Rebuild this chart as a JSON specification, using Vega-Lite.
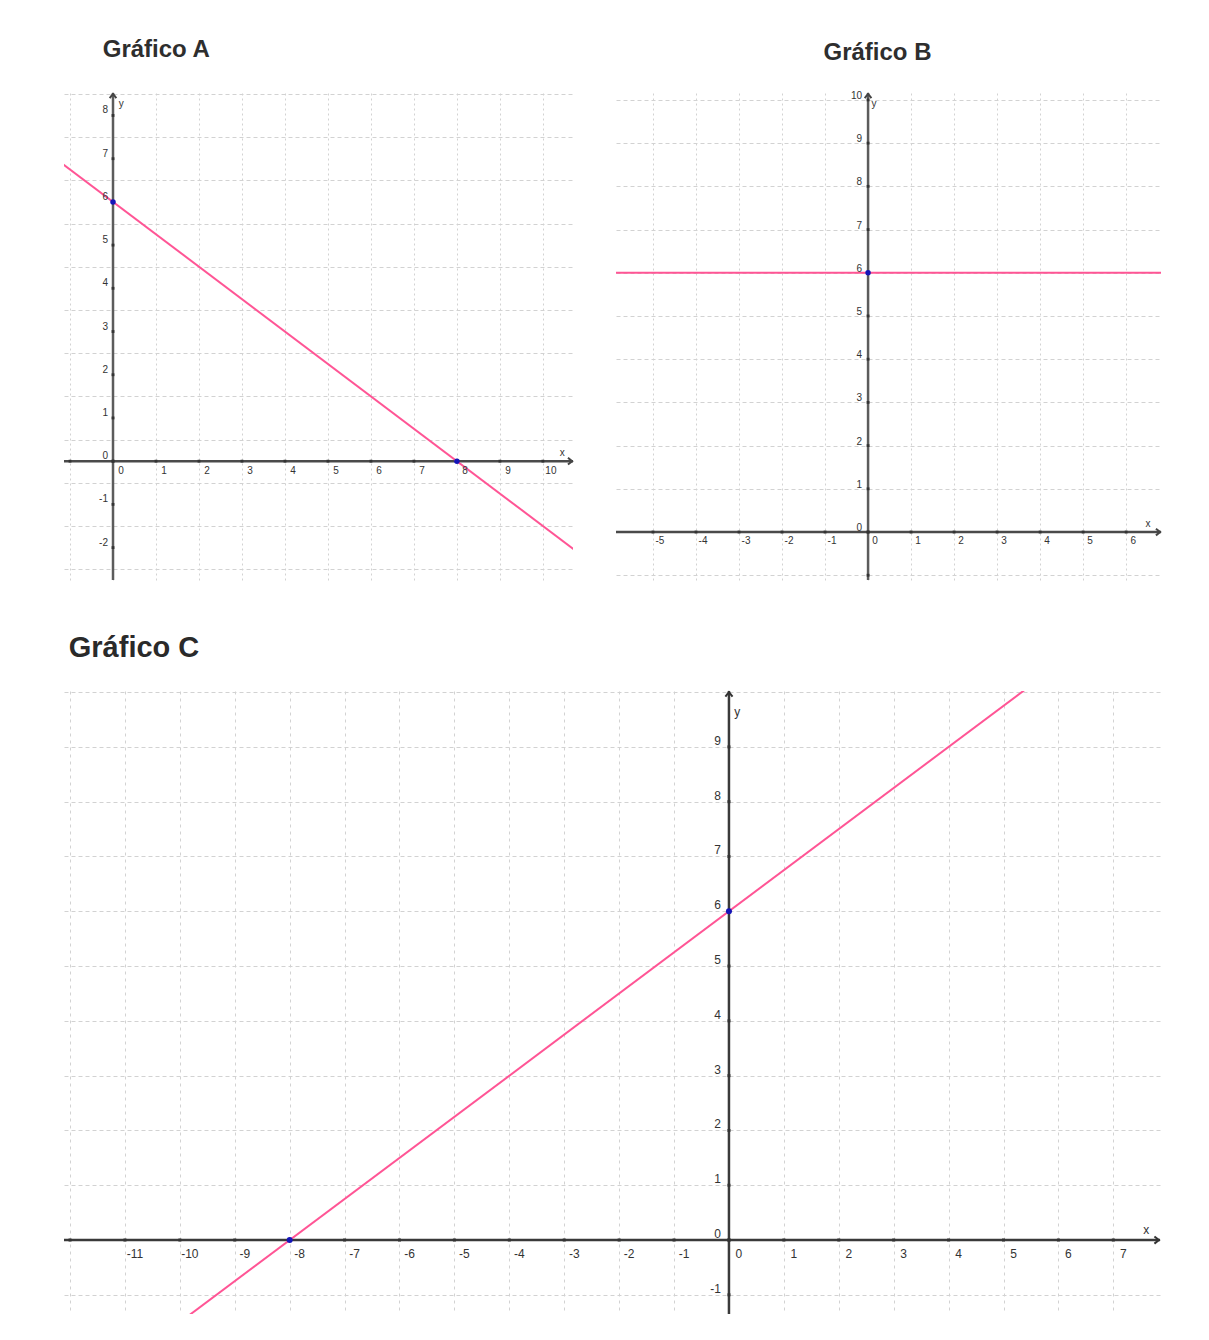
{
  "$schema": "https://vega.github.io/schema/vega-lite/v6.json",
  "background": "white",
  "padding": {"left": 62, "top": 37, "right": 0, "bottom": 0},
  "spacing": 52,
  "config": {"view": {"stroke": null}, "text": {"font": "Liberation Sans", "color": "#333"}},
  "datasets": {
    "one": [{}],
    "A_line": [{"x": -2, "y": 7.5}, {"x": 12, "y": -3}],
    "A_pts": [{"x": 0, "y": 6}, {"x": 8, "y": 0}],
    "A_xt": [{"v": -1, "t": ""}, {"v": 0, "t": "0"}, {"v": 1, "t": "1"}, {"v": 2, "t": "2"}, {"v": 3, "t": "3"}, {"v": 4, "t": "4"}, {"v": 5, "t": "5"}, {"v": 6, "t": "6"}, {"v": 7, "t": "7"}, {"v": 8, "t": "8"}, {"v": 9, "t": "9"}, {"v": 10, "t": "10"}],
    "A_yt": [{"v": -2, "t": "-2"}, {"v": -1, "t": "-1"}, {"v": 0, "t": "0"}, {"v": 1, "t": "1"}, {"v": 2, "t": "2"}, {"v": 3, "t": "3"}, {"v": 4, "t": "4"}, {"v": 5, "t": "5"}, {"v": 6, "t": "6"}, {"v": 7, "t": "7"}, {"v": 8, "t": "8"}],
    "B_line": [{"x": -7, "y": 6}, {"x": 8, "y": 6}],
    "B_pts": [{"x": 0, "y": 6}],
    "B_xt": [{"v": -5, "t": "-5"}, {"v": -4, "t": "-4"}, {"v": -3, "t": "-3"}, {"v": -2, "t": "-2"}, {"v": -1, "t": "-1"}, {"v": 0, "t": "0"}, {"v": 1, "t": "1"}, {"v": 2, "t": "2"}, {"v": 3, "t": "3"}, {"v": 4, "t": "4"}, {"v": 5, "t": "5"}, {"v": 6, "t": "6"}],
    "B_yt": [{"v": -1, "t": ""}, {"v": 0, "t": "0"}, {"v": 1, "t": "1"}, {"v": 2, "t": "2"}, {"v": 3, "t": "3"}, {"v": 4, "t": "4"}, {"v": 5, "t": "5"}, {"v": 6, "t": "6"}, {"v": 7, "t": "7"}, {"v": 8, "t": "8"}, {"v": 9, "t": "9"}, {"v": 10, "t": "10"}],
    "C_line": [{"x": -13, "y": -3.75}, {"x": 8, "y": 12}],
    "C_pts": [{"x": 0, "y": 6}, {"x": -8, "y": 0}],
    "C_xt": [{"v": -12, "t": ""}, {"v": -11, "t": "-11"}, {"v": -10, "t": "-10"}, {"v": -9, "t": "-9"}, {"v": -8, "t": "-8"}, {"v": -7, "t": "-7"}, {"v": -6, "t": "-6"}, {"v": -5, "t": "-5"}, {"v": -4, "t": "-4"}, {"v": -3, "t": "-3"}, {"v": -2, "t": "-2"}, {"v": -1, "t": "-1"}, {"v": 0, "t": "0"}, {"v": 1, "t": "1"}, {"v": 2, "t": "2"}, {"v": 3, "t": "3"}, {"v": 4, "t": "4"}, {"v": 5, "t": "5"}, {"v": 6, "t": "6"}, {"v": 7, "t": "7"}],
    "C_yt": [{"v": -1, "t": "-1"}, {"v": 0, "t": "0"}, {"v": 1, "t": "1"}, {"v": 2, "t": "2"}, {"v": 3, "t": "3"}, {"v": 4, "t": "4"}, {"v": 5, "t": "5"}, {"v": 6, "t": "6"}, {"v": 7, "t": "7"}, {"v": 8, "t": "8"}, {"v": 9, "t": "9"}]
  },
  "vconcat": [
    {
      "spacing": 37,
      "hconcat": [
        {
          "width": 509,
          "height": 487,
          "data": {"name": "one"},
          "title": {"text": "Gráfico A", "anchor": "start", "dx": 40, "offset": 9, "baseline": "alphabetic", "font": "Liberation Sans", "fontSize": 24, "fontWeight": "bold", "color": "#2e2e2e"},
          "layer": [
            {
              "mark": {"type": "rule", "color": "#5c5c5c", "strokeWidth": 2.5},
              "encoding": {"x": {"datum": 0, "type": "quantitative", "scale": {"domain": [-1.14, 10.7], "nice": false, "zero": false},
                "axis": {"values": [-1, 0, 1, 2, 3, 4, 5, 6, 7, 8, 9, 10], "grid": true, "gridDash": [2, 3], "gridColor": "#d2d2d2", "labels": false, "ticks": false, "domain": false, "title": null}}}
            },
            {
              "mark": {"type": "rule", "color": "#4a4a4a", "strokeWidth": 2.5},
              "encoding": {"y": {"datum": 0, "type": "quantitative", "scale": {"domain": [-2.75, 8.52], "nice": false, "zero": false},
                "axis": {"values": [-2.5, -2, -1.5, -1, -0.5, 0, 0.5, 1, 1.5, 2, 2.5, 3, 3.5, 4, 4.5, 5, 5.5, 6, 6.5, 7, 7.5, 8, 8.5], "grid": true, "gridDash": [4, 3], "gridColor": "#d2d2d2", "labels": false, "ticks": false, "domain": false, "title": null}}}
            },
            {
              "data": {"name": "A_line"},
              "mark": {"type": "line", "color": "#ff5595", "strokeWidth": 2, "clip": true},
              "encoding": {"x": {"field": "x", "type": "quantitative"}, "y": {"field": "y", "type": "quantitative"}}
            },
            {
              "data": {"name": "A_xt"},
              "mark": {"type": "point", "shape": "square", "size": 8, "filled": true, "color": "#333", "opacity": 1},
              "encoding": {"x": {"field": "v", "type": "quantitative"}, "y": {"datum": 0}}
            },
            {
              "data": {"name": "A_yt"},
              "mark": {"type": "point", "shape": "square", "size": 8, "filled": true, "color": "#333", "opacity": 1},
              "encoding": {"y": {"field": "v", "type": "quantitative"}, "x": {"datum": 0}}
            },
            {
              "data": {"name": "A_xt"},
              "mark": {"type": "text", "fontSize": 10, "dx": 8, "dy": 10, "align": "center", "baseline": "middle"},
              "encoding": {"x": {"field": "v", "type": "quantitative"}, "y": {"datum": 0}, "text": {"field": "t"}}
            },
            {
              "data": {"name": "A_yt"},
              "mark": {"type": "text", "fontSize": 10, "dx": -5, "dy": -5, "align": "right", "baseline": "middle"},
              "encoding": {"y": {"field": "v", "type": "quantitative"}, "x": {"datum": 0}, "text": {"field": "t"}}
            },
            {
              "mark": {"type": "point", "shape": "M-1,-0.8L0,0L-1,0.8", "size": 70, "filled": false, "color": "#444", "strokeWidth": 2, "opacity": 1},
              "encoding": {"x": {"datum": 10.68}, "y": {"datum": 0}}
            },
            {
              "mark": {"type": "point", "shape": "M-0.8,1L0,0L0.8,1", "size": 70, "filled": false, "color": "#444", "strokeWidth": 2, "opacity": 1},
              "encoding": {"x": {"datum": 0}, "y": {"datum": 8.5}}
            },
            {
              "mark": {"type": "text", "text": "x", "fontSize": 10},
              "encoding": {"x": {"datum": 10.45}, "y": {"datum": 0.2}}
            },
            {
              "mark": {"type": "text", "text": "y", "fontSize": 10},
              "encoding": {"x": {"datum": 0.19}, "y": {"datum": 8.26}}
            },
            {
              "data": {"name": "A_pts"},
              "mark": {"type": "circle", "size": 30, "color": "#1414b8", "opacity": 1},
              "encoding": {"x": {"field": "x", "type": "quantitative"}, "y": {"field": "y", "type": "quantitative"}}
            }
          ]
        },
        {
          "width": 545,
          "height": 487,
          "data": {"name": "one"},
          "title": {"text": "Gráfico B", "anchor": "middle", "dx": -11, "offset": 6, "baseline": "alphabetic", "font": "Liberation Sans", "fontSize": 24, "fontWeight": "bold", "color": "#2e2e2e"},
          "layer": [
            {
              "mark": {"type": "rule", "color": "#5c5c5c", "strokeWidth": 2.5},
              "encoding": {"x": {"datum": 0, "type": "quantitative", "scale": {"domain": [-5.86, 6.81], "nice": false, "zero": false},
                "axis": {"values": [-5, -4, -3, -2, -1, 0, 1, 2, 3, 4, 5, 6], "grid": true, "gridDash": [2, 3], "gridColor": "#d2d2d2", "labels": false, "ticks": false, "domain": false, "title": null}}}
            },
            {
              "mark": {"type": "rule", "color": "#4a4a4a", "strokeWidth": 2.5},
              "encoding": {"y": {"datum": 0, "type": "quantitative", "scale": {"domain": [-1.11, 10.16], "nice": false, "zero": false},
                "axis": {"values": [-1, -0.5, 0, 0.5, 1, 1.5, 2, 2.5, 3, 3.5, 4, 4.5, 5, 5.5, 6, 6.5, 7, 7.5, 8, 8.5, 9, 9.5, 10], "grid": true, "gridDash": [4, 3], "gridColor": "#d2d2d2", "labels": false, "ticks": false, "domain": false, "title": null}}}
            },
            {
              "data": {"name": "B_line"},
              "mark": {"type": "line", "color": "#ff5595", "strokeWidth": 2, "clip": true},
              "encoding": {"x": {"field": "x", "type": "quantitative"}, "y": {"field": "y", "type": "quantitative"}}
            },
            {
              "data": {"name": "B_xt"},
              "mark": {"type": "point", "shape": "square", "size": 8, "filled": true, "color": "#333", "opacity": 1},
              "encoding": {"x": {"field": "v", "type": "quantitative"}, "y": {"datum": 0}}
            },
            {
              "data": {"name": "B_yt"},
              "mark": {"type": "point", "shape": "square", "size": 8, "filled": true, "color": "#333", "opacity": 1},
              "encoding": {"y": {"field": "v", "type": "quantitative"}, "x": {"datum": 0}}
            },
            {
              "data": {"name": "B_xt"},
              "mark": {"type": "text", "fontSize": 10, "dx": 7, "dy": 9, "align": "center", "baseline": "middle"},
              "encoding": {"x": {"field": "v", "type": "quantitative"}, "y": {"datum": 0}, "text": {"field": "t"}}
            },
            {
              "data": {"name": "B_yt"},
              "mark": {"type": "text", "fontSize": 10, "dx": -6, "dy": -4, "align": "right", "baseline": "middle"},
              "encoding": {"y": {"field": "v", "type": "quantitative"}, "x": {"datum": 0}, "text": {"field": "t"}}
            },
            {
              "mark": {"type": "point", "shape": "M-1,-0.8L0,0L-1,0.8", "size": 70, "filled": false, "color": "#444", "strokeWidth": 2, "opacity": 1},
              "encoding": {"x": {"datum": 6.79}, "y": {"datum": 0}}
            },
            {
              "mark": {"type": "point", "shape": "M-0.8,1L0,0L0.8,1", "size": 70, "filled": false, "color": "#444", "strokeWidth": 2, "opacity": 1},
              "encoding": {"x": {"datum": 0}, "y": {"datum": 10.14}}
            },
            {
              "mark": {"type": "text", "text": "x", "fontSize": 10},
              "encoding": {"x": {"datum": 6.51}, "y": {"datum": 0.19}}
            },
            {
              "mark": {"type": "text", "text": "y", "fontSize": 10},
              "encoding": {"x": {"datum": 0.14}, "y": {"datum": 9.91}}
            },
            {
              "data": {"name": "B_pts"},
              "mark": {"type": "circle", "size": 30, "color": "#1414b8", "opacity": 1},
              "encoding": {"x": {"field": "x", "type": "quantitative"}, "y": {"field": "y", "type": "quantitative"}}
            }
          ]
        }
      ]
    },
    {
      "width": 1096,
      "height": 623,
      "data": {"name": "one"},
      "title": {"text": "Gráfico C", "anchor": "start", "dx": 6, "offset": 2, "baseline": "alphabetic", "font": "Liberation Sans", "fontSize": 29, "fontWeight": "bold", "color": "#2a2a2a"},
      "layer": [
        {
          "mark": {"type": "rule", "color": "#3a3a3a", "strokeWidth": 2.5},
          "encoding": {"x": {"datum": 0, "type": "quantitative", "scale": {"domain": [-12.11, 7.85], "nice": false, "zero": false},
            "axis": {"values": [-12, -11, -10, -9, -8, -7, -6, -5, -4, -3, -2, -1, 0, 1, 2, 3, 4, 5, 6, 7], "grid": true, "gridDash": [3, 4], "gridColor": "#d2d2d2", "labels": false, "ticks": false, "domain": false, "title": null}}}
        },
        {
          "mark": {"type": "rule", "color": "#3a3a3a", "strokeWidth": 2.5},
          "encoding": {"y": {"datum": 0, "type": "quantitative", "scale": {"domain": [-1.35, 10.02], "nice": false, "zero": false},
            "axis": {"values": [-1, -0.5, 0, 0.5, 1, 1.5, 2, 2.5, 3, 3.5, 4, 4.5, 5, 5.5, 6, 6.5, 7, 7.5, 8, 8.5, 9, 9.5, 10], "grid": true, "gridDash": [4, 3], "gridColor": "#d2d2d2", "labels": false, "ticks": false, "domain": false, "title": null}}}
        },
        {
          "data": {"name": "C_line"},
          "mark": {"type": "line", "color": "#ff5595", "strokeWidth": 2, "clip": true},
          "encoding": {"x": {"field": "x", "type": "quantitative"}, "y": {"field": "y", "type": "quantitative"}}
        },
        {
          "data": {"name": "C_xt"},
          "mark": {"type": "point", "shape": "square", "size": 9, "filled": true, "color": "#333", "opacity": 1},
          "encoding": {"x": {"field": "v", "type": "quantitative"}, "y": {"datum": 0}}
        },
        {
          "data": {"name": "C_yt"},
          "mark": {"type": "point", "shape": "square", "size": 9, "filled": true, "color": "#333", "opacity": 1},
          "encoding": {"y": {"field": "v", "type": "quantitative"}, "x": {"datum": 0}}
        },
        {
          "data": {"name": "C_xt"},
          "mark": {"type": "text", "fontSize": 12, "dx": 10, "dy": 14, "align": "center", "baseline": "middle"},
          "encoding": {"x": {"field": "v", "type": "quantitative"}, "y": {"datum": 0}, "text": {"field": "t"}}
        },
        {
          "data": {"name": "C_yt"},
          "mark": {"type": "text", "fontSize": 12, "dx": -8, "dy": -6, "align": "right", "baseline": "middle"},
          "encoding": {"y": {"field": "v", "type": "quantitative"}, "x": {"datum": 0}, "text": {"field": "t"}}
        },
        {
          "mark": {"type": "point", "shape": "M-1,-0.8L0,0L-1,0.8", "size": 80, "filled": false, "color": "#333", "strokeWidth": 2, "opacity": 1},
          "encoding": {"x": {"datum": 7.83}, "y": {"datum": 0}}
        },
        {
          "mark": {"type": "point", "shape": "M-0.8,1L0,0L0.8,1", "size": 80, "filled": false, "color": "#333", "strokeWidth": 2, "opacity": 1},
          "encoding": {"x": {"datum": 0}, "y": {"datum": 10}}
        },
        {
          "mark": {"type": "text", "text": "x", "fontSize": 12},
          "encoding": {"x": {"datum": 7.6}, "y": {"datum": 0.18}}
        },
        {
          "mark": {"type": "text", "text": "y", "fontSize": 12},
          "encoding": {"x": {"datum": 0.15}, "y": {"datum": 9.63}}
        },
        {
          "data": {"name": "C_pts"},
          "mark": {"type": "circle", "size": 36, "color": "#1414b8", "opacity": 1},
          "encoding": {"x": {"field": "x", "type": "quantitative"}, "y": {"field": "y", "type": "quantitative"}}
        }
      ]
    }
  ]
}
